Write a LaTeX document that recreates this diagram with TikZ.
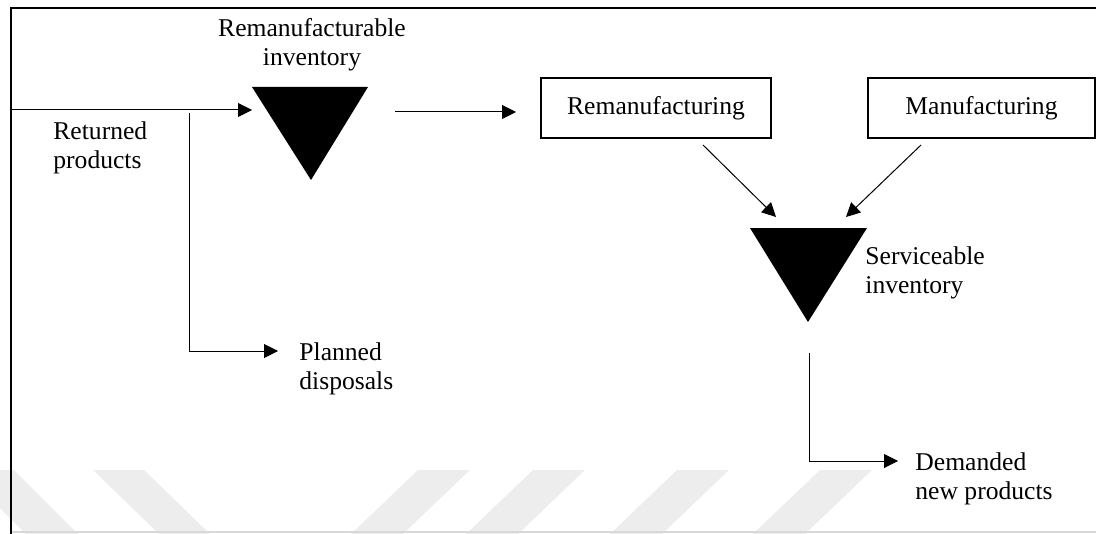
\documentclass[tikz,border=0pt]{standalone}
\usepackage{fontspec}
\setmainfont{Liberation Serif}
\usetikzlibrary{arrows.meta}
\definecolor{wm}{gray}{0.93}
\begin{document}
\begin{tikzpicture}[x=0.5pt,y=-0.5pt,
  lbl/.style={font=\fontsize{12.8}{14.5}\selectfont, align=left, inner sep=0pt},
  clbl/.style={font=\fontsize{12.8}{14.5}\selectfont, align=center, inner sep=0pt},
  procbox/.style={draw, line width=1pt, inner sep=0pt, minimum height=30pt,
    font=\fontsize{12.8}{14.5}\selectfont},
  flow/.style={line width=0.5pt, -{Triangle[length=7pt,width=7pt]}},
  plain/.style={line width=0.5pt},
  inv/.style={fill=black}]
\useasboundingbox (0,0) rectangle (1096,534);
% watermark
\fill[wm] (-38,470) -- (14,470) -- (78,534) -- (26,534) -- cycle;
\fill[wm] (93,470) -- (144,470) -- (210,534) -- (159,534) -- cycle;
\fill[wm] (418,470) -- (470,470) -- (403,534) -- (351,534) -- cycle;
\fill[wm] (533,470) -- (585,470) -- (518,534) -- (466,534) -- cycle;
\fill[wm] (677,470) -- (729,470) -- (662,534) -- (610,534) -- cycle;
\fill[wm] (820,470) -- (872,470) -- (805,534) -- (753,534) -- cycle;
\draw[wm!80!black!60!white, line width=1pt] (11,532) -- (1096,532);
% frame
\draw[line width=1pt] (11,540) -- (11,8) -- (1100,8);
% inventories (triangles)
\coordinate (r1) at (252,87);
\coordinate (r2) at (368,87);
\coordinate (r3) at (311,180);
\fill[inv] (r1) -- (r2) -- (r3) -- cycle;
\coordinate (s1) at (750,228);
\coordinate (s2) at (867,228);
\coordinate (s3) at (808,322);
\fill[inv] (s1) -- (s2) -- (s3) -- cycle;
% labels
\node[clbl] (remlbl) at (312,45) {Remanufacturable\\inventory};
\node[lbl, anchor=west] (ret) at (53,148) {Returned\\products};
\node[lbl, anchor=west] (plan) at (299,369) {Planned\\disposals};
\node[lbl, anchor=west] (serv) at (865,273) {Serviceable\\inventory};
\node[lbl, anchor=west] (dem) at (915,479) {Demanded\\new products};
% process boxes
\node[procbox, minimum width=115pt] (reman) at (656,108) {Remanufacturing};
\node[procbox, minimum width=113.5pt] (manu) at (981.5,108) {Manufacturing};
% connectors
\coordinate (inL) at (12,110);
\coordinate (inT) at (252,110);
\draw[flow] (inL) -- (inT);
\coordinate (dTop) at (189,113);
\coordinate (dCorner) at (189,351);
\coordinate (dEnd) at (278,351);
\draw[flow] (dTop) -- (dCorner) -- (dEnd);
\coordinate (oA) at (395,112);
\coordinate (oB) at (516,112);
\draw[flow] (oA) -- (oB);
\coordinate (rmA) at (703,145);
\coordinate (rmB) at (776,217);
\draw[flow] (rmA) -- (rmB);
\coordinate (mA) at (921,145);
\coordinate (mB) at (846,217);
\draw[flow] (mA) -- (mB);
\coordinate (qTop) at (809,353);
\coordinate (qCorner) at (809,461);
\coordinate (qEnd) at (898,461);
\draw[flow] (qTop) -- (qCorner) -- (qEnd);
\end{tikzpicture}
\end{document}
